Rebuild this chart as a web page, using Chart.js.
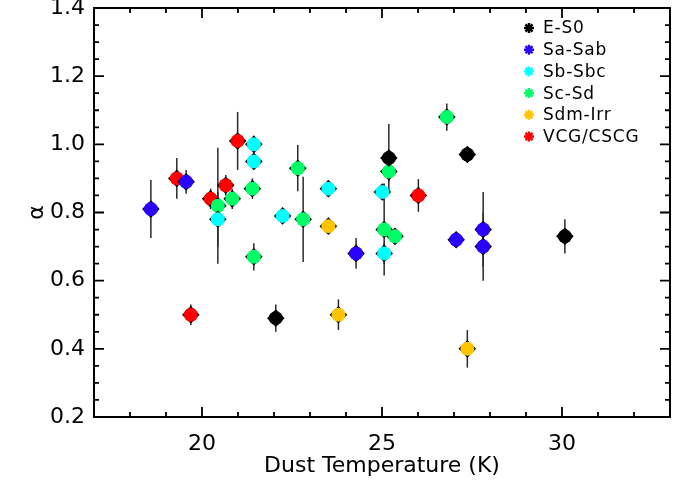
<!DOCTYPE html>
<html>
<head>
<meta charset="utf-8">
<script src="https://cdn.jsdelivr.net/npm/chart.js@4.4.0/dist/chart.umd.min.js"></script>
<style>
  html, body { margin: 0; padding: 0; background: #fff; }
</style>
</head>
<body>
<canvas id="chart" width="694" height="491"></canvas>
<script>
"use strict";

const categories = ["E-S0", "Sa-Sab", "Sb-Sbc", "Sc-Sd", "Sdm-Irr", "VCG/CSCG"];
const categoryColors = ["#000000", "#2a00ff", "#00ffff", "#00ff66", "#ffc400", "#ff0000"];

// dust temperature (K), alpha and alpha error, one row per category
const dustTemperature = [
  [22.05, 25.19, 27.37, 30.08],
  [18.58, 19.56, 24.28, 27.06, 27.81, 27.81],
  [20.44, 21.44, 21.44, 22.24, 23.51, 25.01, 25.06],
  [20.44, 20.84, 21.40, 21.44, 22.66, 22.81, 25.19, 25.06, 25.36, 26.80],
  [23.51, 23.79, 27.37],
  [19.30, 20.24, 20.66, 20.99, 19.69, 26.01]
];
const alphaValues = [
  [0.49, 0.96, 0.97, 0.73],
  [0.81, 0.89, 0.68, 0.72, 0.75, 0.70],
  [0.78, 0.95, 1.00, 0.79, 0.87, 0.86, 0.68],
  [0.82, 0.84, 0.87, 0.67, 0.93, 0.78, 0.92, 0.75, 0.73, 1.08],
  [0.76, 0.50, 0.40],
  [0.90, 0.84, 0.88, 1.01, 0.50, 0.85]
];
const alphaErrors = [
  [0.04, 0.10, 0.02, 0.05],
  [0.085, 0.035, 0.045, 0.015, 0.11, 0.10],
  [0.08, 0.02, 0.025, 0.02, 0.015, 0.02, 0.03],
  [0.17, 0.03, 0.03, 0.04, 0.068, 0.125, 0.03, 0.135, 0.02, 0.04],
  [0.015, 0.045, 0.055],
  [0.06, 0.03, 0.03, 0.085, 0.03, 0.048]
];

const xTickValues = [20, 25, 30];
const yTickValues = [0.2, 0.4, 0.6, 0.8, 1.0, 1.2, 1.4];
const xMinorStep = 1;
const yMinorStep = 0.05;

const fontFamily = "'DejaVu Sans', sans-serif";

const errorBarPlugin = {
  id: "errorBars",
  beforeDatasetsDraw(chart) {
    const ctx = chart.ctx;
    const xScale = chart.scales.x;
    const yScale = chart.scales.y;

    ctx.save();
    ctx.strokeStyle = "#2a2a2a";
    ctx.lineWidth = 1.5;
    chart.data.datasets.forEach((dataset, i) => {
      dataset.data.forEach((point, j) => {
        const err = alphaErrors[i][j];
        const px = xScale.getPixelForValue(point.x);

        ctx.beginPath();
        ctx.moveTo(px, yScale.getPixelForValue(point.y + err));
        ctx.lineTo(px, yScale.getPixelForValue(point.y - err));
        ctx.stroke();
      });
    });
    ctx.restore();
  },
  beforeDatasetDraw(chart, args) {
    const ctx = chart.ctx;
    const meta = chart.getDatasetMeta(args.index);

    // black diamond behind each marker, only its tips show
    ctx.save();
    ctx.fillStyle = "#000";
    for (const element of meta.data) {
      const r = 8.8;

      ctx.beginPath();
      ctx.moveTo(element.x, element.y - r);
      ctx.lineTo(element.x + r, element.y);
      ctx.lineTo(element.x, element.y + r);
      ctx.lineTo(element.x - r, element.y);
      ctx.closePath();
      ctx.fill();
    }
    ctx.restore();
  }
};

const frameplugin = {
  id: "frame",
  afterDatasetsDraw(chart) {
    const ctx = chart.ctx;
    const area = chart.chartArea;
    const xScale = chart.scales.x;
    const yScale = chart.scales.y;

    ctx.save();
    ctx.strokeStyle = "#000";
    ctx.lineWidth = 1.8;

    for (let v = xScale.min; v <= xScale.max + 1e-9; v += xMinorStep) {
      const px = xScale.getPixelForValue(v);
      const len = xTickValues.includes(Math.round(v)) ? 10 : 5;

      ctx.beginPath();
      ctx.moveTo(px, area.bottom);
      ctx.lineTo(px, area.bottom - len);
      ctx.moveTo(px, area.top);
      ctx.lineTo(px, area.top + len);
      ctx.stroke();
    }

    for (let k = 0; yScale.min + k * yMinorStep <= yScale.max + 1e-9; k++) {
      const v = yScale.min + k * yMinorStep;
      const py = yScale.getPixelForValue(v);
      const len = k % 4 === 0 ? 10 : 5;

      ctx.beginPath();
      ctx.moveTo(area.left, py);
      ctx.lineTo(area.left + len, py);
      ctx.moveTo(area.right, py);
      ctx.lineTo(area.right - len, py);
      ctx.stroke();
    }

    ctx.lineWidth = 2;
    ctx.strokeRect(area.left, area.top, area.right - area.left, area.bottom - area.top);
    ctx.restore();
  }
};

const legendPlugin = {
  id: "starLegend",
  afterDraw(chart) {
    const ctx = chart.ctx;
    const area = chart.chartArea;
    const symbolX = area.right - 141;
    const textX = area.right - 127;

    ctx.save();
    ctx.font = "17px " + fontFamily;
    ctx.textBaseline = "middle";
    ctx.textAlign = "left";
    if ("letterSpacing" in ctx) ctx.letterSpacing = "0.8px";

    chart.data.datasets.forEach((dataset, i) => {
      const y = area.top + 20 + i * 21.7;
      const r = 5;

      ctx.strokeStyle = dataset.backgroundColor;
      ctx.lineWidth = 2.4;
      ctx.beginPath();
      for (let a = 0; a < 4; a++) {
        const angle = (a * Math.PI) / 4;
        ctx.moveTo(symbolX - r * Math.cos(angle), y - r * Math.sin(angle));
        ctx.lineTo(symbolX + r * Math.cos(angle), y + r * Math.sin(angle));
      }
      ctx.stroke();

      ctx.fillStyle = "#000";
      ctx.fillText(dataset.label, textX, y + 1);
    });
    ctx.restore();
  }
};

const datasets = categories.map((category, i) => ({
  label: category,
  data: dustTemperature[i].map((t, j) => ({ x: t, y: alphaValues[i][j] })),
  backgroundColor: categoryColors[i],
  borderWidth: 0,
  pointRadius: 7,
  pointHoverRadius: 7,
  pointStyle: "circle"
}));

new Chart(document.getElementById("chart").getContext("2d"), {
  type: "scatter",
  data: { datasets: datasets },
  plugins: [errorBarPlugin, frameplugin, legendPlugin],
  options: {
    responsive: false,
    animation: false,
    layout: { padding: { top: 8, right: 24, bottom: 0, left: 0 } },
    plugins: {
      legend: { display: false },
      tooltip: { enabled: false }
    },
    scales: {
      x: {
        type: "linear",
        min: 17,
        max: 33,
        grid: { display: false, drawTicks: false },
        border: { display: false },
        afterBuildTicks: scale => {
          scale.ticks = xTickValues.map(v => ({ value: v }));
        },
        afterFit: scale => {
          scale.height = 74;
          scale.paddingLeft = 0;
          scale.paddingRight = 0;
        },
        ticks: {
          color: "#000",
          padding: 14,
          maxRotation: 0,
          font: { family: fontFamily, size: 22 }
        },
        title: {
          display: true,
          text: "Dust Temperature (K)",
          color: "#000",
          font: { family: fontFamily, size: 22 },
          padding: { top: 0, bottom: 12 }
        }
      },
      y: {
        type: "linear",
        min: 0.2,
        max: 1.4,
        grid: { display: false, drawTicks: false },
        border: { display: false },
        afterBuildTicks: scale => {
          scale.ticks = yTickValues.map(v => ({ value: v }));
        },
        afterFit: scale => {
          scale.width = 94;
          scale.paddingTop = 0;
          scale.paddingBottom = 0;
        },
        ticks: {
          color: "#000",
          padding: 9,
          font: { family: fontFamily, size: 22 },
          callback: value => value.toFixed(1)
        },
        title: {
          display: true,
          text: "α",
          color: "#000",
          font: { family: fontFamily, size: 22 },
          padding: { top: 24, bottom: 0 }
        }
      }
    }
  }
});
</script>
</body>
</html>
